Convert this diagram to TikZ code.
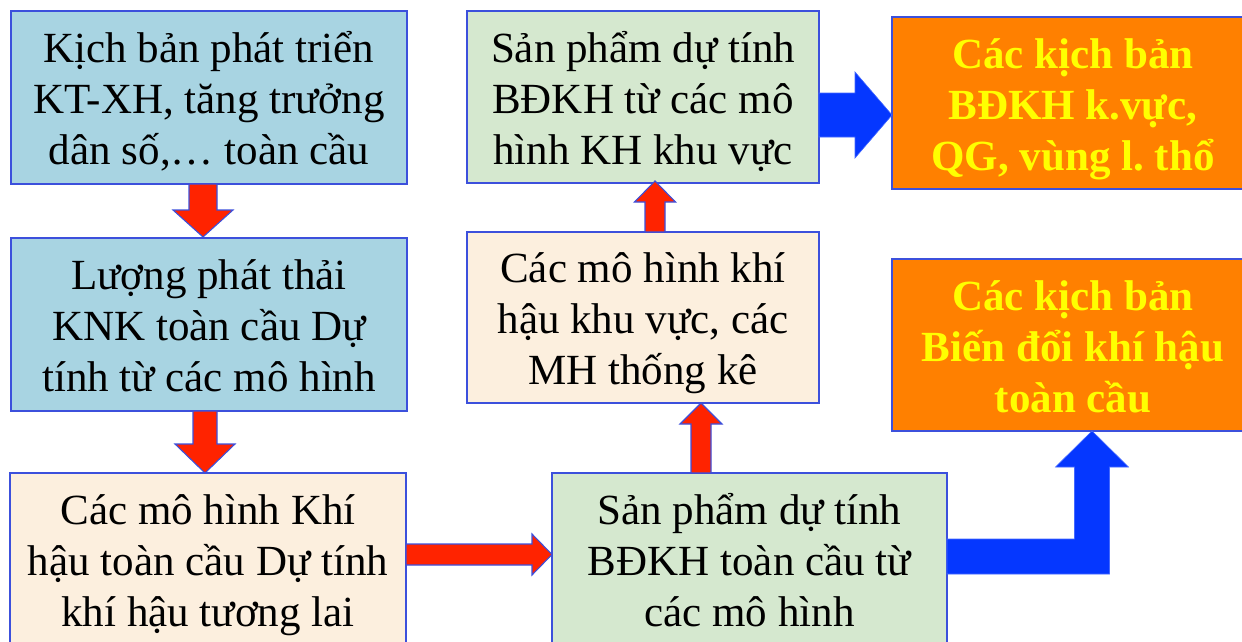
\documentclass[tikz,border=0pt]{standalone}
\usepackage{fontspec}
\setmainfont{Liberation Serif}
\usetikzlibrary{calc}

\definecolor{boxblue}{RGB}{168,212,226}
\definecolor{boxgreen}{RGB}{213,232,207}
\definecolor{boxbeige}{RGB}{252,239,222}
\definecolor{boxorange}{RGB}{255,128,0}
\definecolor{boxline}{RGB}{60,80,220}
\definecolor{arrred}{RGB}{255,35,0}
\definecolor{arrblue}{RGB}{5,55,255}
\definecolor{titleyellow}{RGB}{255,255,0}

% fixed line metrics so every three-line block sits the same way in its box
\newcommand\topstr{\rule{0pt}{44pt}}
\newcommand\botstr{\rule[-12pt]{0pt}{12pt}}

% Block arrow as a filled polygon.
% #1 style, #2 start, #3 tip, #4 #5 unit direction (x,y), #6 shaft half width,
% #7 head half width, #8 head length
\newcommand\blockarrow[8]{%
  \draw[#1]
    ($(#2)+({-(#5)*(#6)},{(#4)*(#6)})$)
    -- ($(#3)+({-(#4)*(#8)-(#5)*(#6)},{-(#5)*(#8)+(#4)*(#6)})$)
    -- ($(#3)+({-(#4)*(#8)-(#5)*(#7)},{-(#5)*(#8)+(#4)*(#7)})$)
    -- (#3)
    -- ($(#3)+({-(#4)*(#8)+(#5)*(#7)},{-(#5)*(#8)-(#4)*(#7)})$)
    -- ($(#3)+({-(#4)*(#8)+(#5)*(#6)},{-(#5)*(#8)-(#4)*(#6)})$)
    -- ($(#2)+({(#5)*(#6)},{-(#4)*(#6)})$)
    -- cycle;}

\tikzset{
  box/.style={draw=boxline, line width=1.4pt, inner sep=0pt, outer sep=0pt,
    align=center, text=black, font=\fontsize{43}{51}\selectfont},
  bluebox/.style={box, fill=boxblue},
  greenbox/.style={box, fill=boxgreen},
  beigebox/.style={box, fill=boxbeige},
  orangebox/.style={box, fill=boxorange, text=titleyellow,
    font=\bfseries\fontsize{43}{51}\selectfont},
  redarrow/.style={fill=arrred, draw=boxline, line width=1.1pt, line join=miter},
  bluearrow/.style={fill=arrblue, draw=arrblue!75!white, line width=0.6pt, line join=miter},
}

\begin{document}
\frenchspacing
\setlength{\lineskiplimit}{-100pt}
\begin{tikzpicture}[x=1pt, y=-1pt]
\useasboundingbox (0,0) rectangle (1242,642);

% left column
\node[bluebox, minimum width=396pt, minimum height=173pt] (kb) at (209,97.5)
  {\topstr Kịch bản phát triển\\KT-XH, tăng trưởng\\dân số,… toàn cầu\botstr};
\node[bluebox, minimum width=396pt, minimum height=173pt] (lp) at (209,324.5)
  {\topstr Lượng phát thải\\KNK toàn cầu Dự\\tính từ các mô hình\botstr};
\node[beigebox, minimum width=396pt, minimum height=173pt] (mhtc) at (208,559.5)
  {\topstr Các mô hình Khí\\hậu toàn cầu Dự tính\\khí hậu tương lai\botstr};

% middle column
\node[greenbox, minimum width=352pt, minimum height=172pt] (spkv) at (643,97)
  {\topstr Sản phẩm dự tính\\BĐKH từ các mô\\hình KH khu vực\botstr};
\node[beigebox, minimum width=352pt, minimum height=171pt] (mhkv) at (643,317.5)
  {\topstr Các mô hình khí\\hậu khu vực, các\\MH thống kê\botstr};
\node[greenbox, minimum width=395pt, minimum height=173pt] (sptc) at (749.5,559.5)
  {\topstr Sản phẩm dự tính\\BĐKH toàn cầu từ\\các mô hình\botstr};

% right column
\node[orangebox, minimum width=362pt, minimum height=172pt] (kbkv) at (1073,103)
  {\topstr Các kịch bản\\BĐKH k.vực,\\QG, vùng l. thổ\botstr};
\node[orangebox, minimum width=362pt, minimum height=172pt] (kbtc) at (1073,345)
  {\topstr Các kịch bản\\Biến đổi khí hậu\\toàn cầu\botstr};

% red flow arrows
\coordinate (a1s) at ($(kb.south)+(-6,0)$);
\coordinate (a1t) at ($(lp.north)+(-6,-1)$);
\blockarrow{redarrow}{a1s}{a1t}{0}{1}{14}{30}{27}

\coordinate (a2s) at ($(lp.south)+(-4,0)$);
\coordinate (a2t) at ($(mhtc.north)+(-3,0)$);
\blockarrow{redarrow}{a2s}{a2t}{0}{1}{12}{30}{29}

\coordinate (a3s) at ($(mhtc.east)+(0,-5)$);
\coordinate (a3t) at ($(sptc.west)+(0,-5)$);
\blockarrow{redarrow}{a3s}{a3t}{1}{0}{10.5}{20.5}{20}

\coordinate (a4s) at ($(sptc.north)+(-48.5,0)$);
\coordinate (a4t) at ($(mhkv.south)+(58,0)$);
\blockarrow{redarrow}{a4s}{a4t}{0}{-1}{10}{21}{21}

\coordinate (a5s) at ($(mhkv.north)+(12,0)$);
\coordinate (a5t) at ($(spkv.south)+(12,-2)$);
\blockarrow{redarrow}{a5s}{a5t}{0}{-1}{10}{20.5}{21}

% blue arrows to the scenario boxes
\coordinate (b1s) at ($(spkv.east)+(0,18)$);
\coordinate (b1t) at ($(kbkv.west)+(0,12)$);
\blockarrow{bluearrow}{b1s}{b1t}{1}{0}{22}{43}{37}

\coordinate (b2s) at ($(sptc.east)+(0,-3)$);
\coordinate (b2t) at ($(kbtc.south)+(19,0)$);
\coordinate (b2c) at (b2t |- b2s);
\draw[bluearrow]
  ($(b2s)+(0,-17.5)$) -- ($(b2c)+(-17.5,-17.5)$) -- ($(b2t)+(-17.5,36)$)
  -- ($(b2t)+(-36.5,36)$) -- (b2t) -- ($(b2t)+(36.5,36)$)
  -- ($(b2t)+(17.5,36)$) -- ($(b2c)+(17.5,17.5)$) -- ($(b2s)+(0,17.5)$) -- cycle;
\end{tikzpicture}
\end{document}
